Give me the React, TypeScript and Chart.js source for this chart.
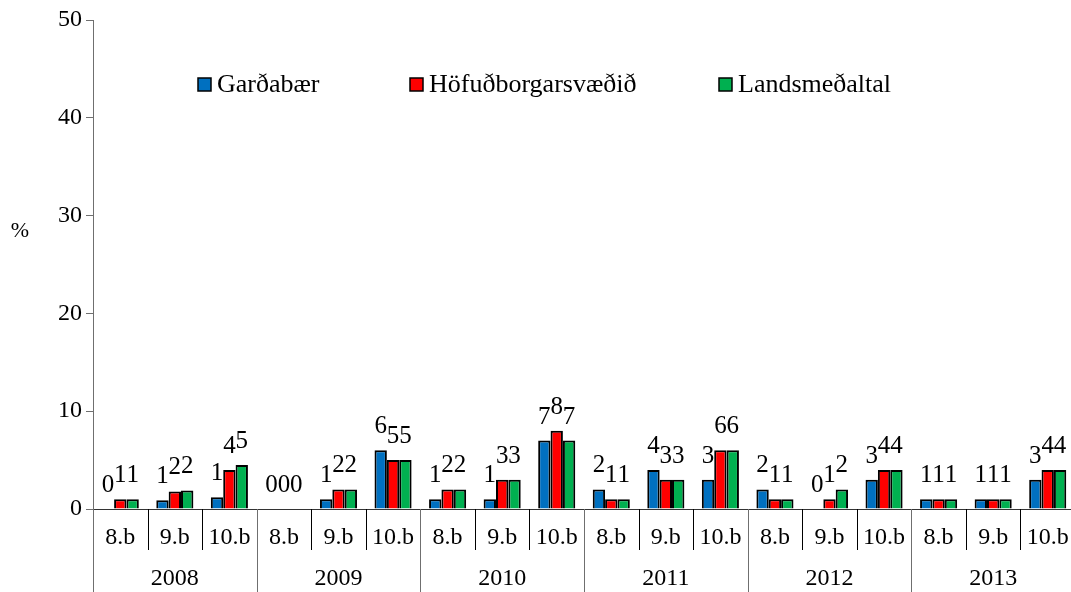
import React, { useEffect, useRef } from 'react';
import { Chart, registerables } from 'chart.js';

Chart.register(...registerables);

const years = ['2008', '2009', '2010', '2011', '2012', '2013'];
const grades = ['8.b', '9.b', '10.b'];
const seriesNames = ['Garðabær', 'Höfuðborgarsvæðið', 'Landsmeðaltal'];
const gardabaer = [0, 0.9, 1.2, 0, 1, 6, 1, 1, 7, 2, 4, 3, 2, 0, 3, 1, 1, 3];
const hofudborgarsvaedid = [1, 1.8, 4, 0, 2, 5, 2, 3, 8, 1, 3, 6, 1, 1, 4, 1, 1, 4];
const landsmedaltal = [1, 1.9, 4.5, 0, 2, 5, 2, 3, 7, 1, 3, 6, 1, 2, 4, 1, 1, 4];
const yTicks = [0, 10, 20, 30, 40, 50];
const colors = ['#0070C0', '#FF0000', '#00B050'];
const yTitle = '%';

const categories = years.flatMap((y) => grades.map((g) => `${g} ${y}`));

const FONT = '"Liberation Serif", "Times New Roman", serif';
const AXIS_COLOR = '#6f6f6f';

export default function App() {
  const ref = useRef<HTMLCanvasElement>(null);

  useEffect(() => {
    document.body.style.margin = '0';
    document.body.style.overflow = 'hidden';
    const canvas = ref.current!;

    const plugin = {
      id: 'customDraw',
      afterDatasetsDraw(chart: any) {
        const ctx = chart.ctx;
        ctx.save();
        ctx.fillStyle = '#000';
        ctx.font = `25px ${FONT}`;
        ctx.textAlign = 'center';
        ctx.textBaseline = 'alphabetic';
        chart.data.datasets.forEach((ds: any, di: number) => {
          const meta = chart.getDatasetMeta(di);
          meta.data.forEach((el: any, i: number) => {
            const v = ds.data[i];
            ctx.fillText(String(Math.round(v)), el.x, el.y - 17);
          });
        });
        ctx.restore();
      },
      afterDraw(chart: any) {
        const ctx = chart.ctx;
        const xs = chart.scales.x;
        const ys = chart.scales.y;
        const area = chart.chartArea;
        const y0 = ys.getPixelForValue(0);
        const n = categories.length;
        const w = (area.right - area.left) / n;
        ctx.save();
        // zero line
        ctx.strokeStyle = '#333';
        ctx.lineWidth = 1;
        ctx.beginPath();
        ctx.moveTo(area.left, Math.round(y0) + 0.5);
        ctx.lineTo(area.right, Math.round(y0) + 0.5);
        ctx.stroke();
        // dividers
        for (let k = 0; k <= n; k++) {
          const x = Math.round(area.left + k * w) + 0.5;
          const isYear = k % grades.length === 0;
          ctx.strokeStyle = isYear ? AXIS_COLOR : '#000';
          ctx.beginPath();
          ctx.moveTo(x, y0);
          ctx.lineTo(x, isYear ? 592 : 550);
          ctx.stroke();
        }
        // category labels
        ctx.fillStyle = '#000';
        ctx.font = `24px ${FONT}`;
        ctx.textAlign = 'center';
        ctx.textBaseline = 'middle';
        categories.forEach((_, i) => {
          const cx = xs.getPixelForValue(i);
          ctx.fillText(grades[i % grades.length], cx, 538);
        });
        years.forEach((yr, j) => {
          const cx = area.left + (j * grades.length + grades.length / 2) * w;
          ctx.fillText(yr, cx, 579);
        });
        // y title
        ctx.font = `22px ${FONT}`;
        ctx.fillText(yTitle, 20, 231);
        // legend
        const legendX = [198, 410, 719];
        ctx.font = `26px ${FONT}`;
        ctx.textAlign = 'left';
        ctx.textBaseline = 'alphabetic';
        seriesNames.forEach((name, i) => {
          const x = legendX[i];
          ctx.fillStyle = colors[i];
          ctx.fillRect(x, 78, 13, 13);
          ctx.strokeStyle = '#000';
          ctx.lineWidth = 1.5;
          ctx.strokeRect(x, 78, 13, 13);
          ctx.fillStyle = '#000';
          ctx.fillText(name, x + 19, 92);
        });
        ctx.restore();
      },
    };

    const chart = new Chart(canvas, {
      type: 'bar',
      data: {
        labels: categories,
        datasets: [gardabaer, hofudborgarsvaedid, landsmedaltal].map((d, i) => ({
          label: seriesNames[i],
          data: d,
          backgroundColor: colors[i],
          borderColor: '#000',
          borderWidth: 2,
          categoryPercentage: 0.68,
          barPercentage: 1,
        })),
      },
      options: {
        responsive: false,
        animation: false,
        devicePixelRatio: 1,
        layout: { padding: { top: 20, bottom: 83, left: 0, right: 0 } },
        plugins: { legend: { display: false }, tooltip: { enabled: false } },
        scales: {
          x: { display: false },
          y: {
            min: 0,
            max: 50,
            afterFit: (s: any) => {
              s.width = 93;
            },
            afterBuildTicks: (s: any) => {
              s.ticks = yTicks.map((v) => ({ value: v }));
            },
            ticks: { font: { family: FONT, size: 24 }, color: '#000', padding: 4 },
            grid: { drawOnChartArea: false, tickLength: 7, color: AXIS_COLOR },
            border: { color: AXIS_COLOR, width: 1 },
          },
        },
      },
      plugins: [plugin],
    });
    return () => chart.destroy();
  }, []);

  return (
    <div style={{ width: 1071, height: 592, overflow: 'hidden' }}>
      <canvas ref={ref} width={1075} height={592} style={{ display: 'block' }} />
    </div>
  );
}
